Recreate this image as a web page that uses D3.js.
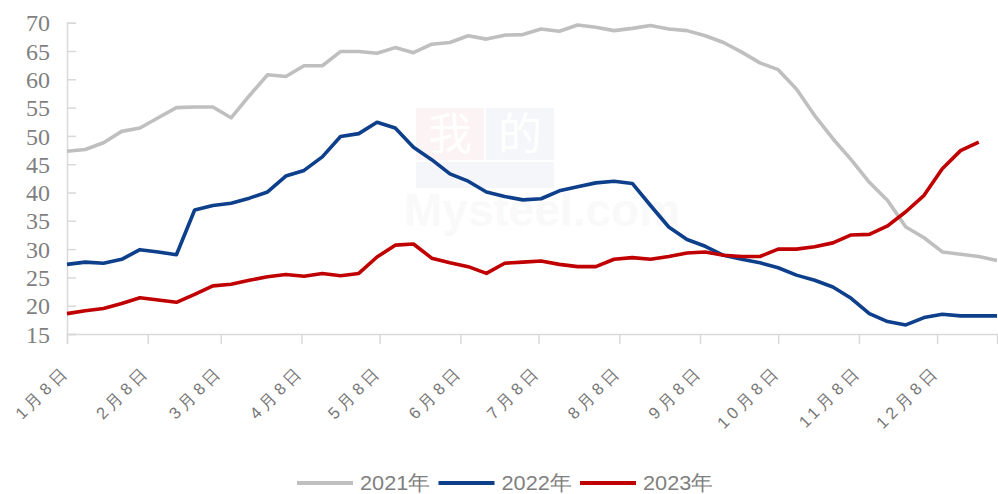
<!DOCTYPE html>
<html><head><meta charset="utf-8">
<script src="https://cdn.jsdelivr.net/npm/d3@7"></script>
<style>
html,body{margin:0;padding:0;background:#fff;}
svg{display:block;}
</style></head>
<body>
<svg id="chart" width="998" height="494"></svg>
<script>
// ---- data ----
const weeks = ["01-08","01-15","01-22","01-29","02-05","02-12","02-19","02-26","03-05","03-12","03-19","03-26",
"04-02","04-09","04-16","04-23","04-30","05-07","05-14","05-21","05-28","06-04","06-11","06-18","06-25",
"07-02","07-09","07-16","07-23","07-30","08-06","08-13","08-20","08-27","09-03","09-10","09-17","09-24",
"10-01","10-08","10-15","10-22","10-29","11-05","11-12","11-19","11-26","12-03","12-10","12-17","12-24","12-31"];
const series2021 = [47.3,47.6,48.8,50.8,51.4,53.2,55.0,55.1,55.1,53.2,57.1,60.8,60.5,62.4,62.4,64.9,64.9,64.6,65.6,64.7,
66.2,66.5,67.7,67.1,67.8,67.9,68.9,68.5,69.6,69.2,68.6,69.0,69.5,68.9,68.6,67.7,66.5,64.8,62.9,61.7,
58.3,53.6,49.5,45.8,41.8,38.6,33.9,32.0,29.5,29.1,28.7,28.0];
const series2022 = [27.3,27.7,27.5,28.2,29.9,29.5,29.0,36.9,37.7,38.1,39.0,40.1,42.9,43.9,46.3,49.9,50.4,52.4,51.4,48.0,
45.8,43.3,42.0,40.1,39.3,38.7,38.9,40.3,41.0,41.7,42.0,41.6,37.7,33.9,31.7,30.5,28.9,28.2,27.6,26.7,
25.4,24.5,23.3,21.3,18.6,17.2,16.6,17.9,18.5,18.2,18.2,18.2];
const series2023 = [18.6,19.1,19.5,20.4,21.4,21.0,20.6,22.0,23.5,23.8,24.5,25.1,25.5,25.2,25.7,25.3,25.7,28.6,30.7,30.9,
28.4,27.6,26.9,25.7,27.5,27.7,27.9,27.3,26.9,26.9,28.2,28.5,28.2,28.7,29.3,29.5,28.9,28.7,28.7,30.0,
30.0,30.4,31.1,32.5,32.6,34.1,36.6,39.5,44.2,47.4,48.9];
const seriesNames = ["2021年","2022年","2023年"];
const seriesColors = ["#bfbfbf","#0d3f8b","#c00000"];
const tickDays = ["01-08","02-08","03-08","04-08","05-08","06-08","07-08","08-08","09-08","10-08","11-08","12-08"];
const tickLabels = ["1月8日","2月8日","3月8日","4月8日","5月8日","6月8日","7月8日","8月8日","9月8日","10月8日","11月8日","12月8日"];
const yTicks = [15,20,25,30,35,40,45,50,55,60,65,70];

// ---- chart ----
const parse = d3.timeParse("%Y-%m-%d");
const dates = weeks.map(w => parse("2023-" + w));
const tickDates = tickDays.map(w => parse("2023-" + w));
const svg = d3.select("#chart");
const L = 67, R = 997, T = 22.7, B = 334;
const x = d3.scaleTime().domain([dates[0], dates[dates.length-1]]).range([L, R]);
const y = d3.scaleLinear().domain([15, 70]).range([B, T]);
const axisColor = "#d9d9d9";

// faint watermark
const wm = svg.append("g").attr("opacity", 0.045);
wm.append("rect").attr("x", 416).attr("y", 108).attr("width", 68).attr("height", 52).attr("fill", "#d0021b");
wm.append("rect").attr("x", 486).attr("y", 108).attr("width", 68).attr("height", 52).attr("fill", "#1f4e9c");
wm.append("rect").attr("x", 416).attr("y", 162).attr("width", 138).attr("height", 26).attr("fill", "#1f4e9c");
wm.append("text").attr("x", 450).attr("y", 150).attr("text-anchor","middle").attr("font-family","Noto Sans CJK SC").attr("font-size",44).attr("fill","#fff").text("我");
wm.append("text").attr("x", 520).attr("y", 150).attr("text-anchor","middle").attr("font-family","Noto Sans CJK SC").attr("font-size",44).attr("fill","#fff").text("的");
wm.append("text").attr("x", 404).attr("y", 226).attr("font-family","Liberation Sans").attr("font-weight","bold").attr("font-size",46).attr("fill","#888").text("Mysteel.com");

// y axis
const yAxis = svg.append("g").attr("transform", `translate(${L},0)`)
  .call(d3.axisLeft(y).tickValues(yTicks).tickSize(-9).tickPadding(17).tickFormat(d3.format("d")));
yAxis.select(".domain").attr("stroke", axisColor).attr("stroke-width", 1.5);
yAxis.selectAll(".tick line").attr("stroke", axisColor).attr("stroke-width", 1.5);
yAxis.selectAll(".tick text").attr("fill", "#7f7f7f").attr("font-family", "Liberation Serif, Times New Roman, serif")
  .attr("font-size", 24).attr("dy", "0.34em");

// x axis
const xAxis = svg.append("g").attr("transform", `translate(0,${B})`)
  .call(d3.axisBottom(x).tickValues(tickDates).tickSize(10).tickFormat((d, i) => tickLabels[i]));
xAxis.select(".domain").attr("stroke", axisColor).attr("stroke-width", 1.5);
xAxis.selectAll(".tick line").attr("stroke", axisColor).attr("stroke-width", 1.5);
xAxis.selectAll(".tick text")
  .attr("fill", "#767676").attr("font-family", "Liberation Sans, Arial, sans-serif").attr("font-size", 16.5)
  .attr("letter-spacing", "4px")
  .attr("text-anchor", "end").attr("y", 0).attr("dy", 0)
  .attr("transform", "translate(3,38) rotate(-45)");

// lines
const line = d3.line().x((d, i) => x(dates[i])).y(d => y(d));
[series2021, series2022, series2023].forEach((s, i) => {
  svg.append("path").datum(s).attr("d", line).attr("fill", "none")
    .attr("stroke", seriesColors[i]).attr("stroke-width", 3.6)
    .attr("stroke-linejoin", "round").attr("stroke-linecap", "butt");
});

// legend
const lg = svg.append("g").attr("transform", "translate(297,483)");
seriesNames.forEach((n, i) => {
  const g = lg.append("g").attr("transform", `translate(${i * 141.5},0)`);
  g.append("line").attr("x1", 0).attr("x2", 56).attr("y1", 0).attr("y2", 0)
    .attr("stroke", seriesColors[i]).attr("stroke-width", 4);
  g.append("text").attr("x", 63).attr("y", 0)
    .attr("textLength", 70).attr("lengthAdjust", "spacingAndGlyphs")
    .attr("dy", "0.33em").attr("fill", "#7f7f7f")
    .attr("font-family", "Liberation Sans, Arial, sans-serif").attr("font-size", 21)
    .text(n);
});
</script>
</body></html>
